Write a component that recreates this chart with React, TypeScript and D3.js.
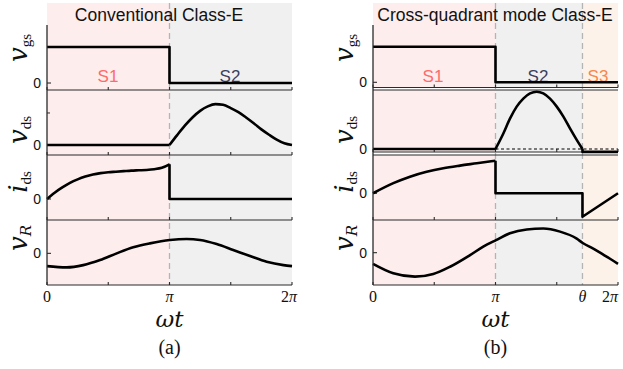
import React from "react";
import * as d3 from "d3";

// ---- data (phase in units of π, values normalised per trace) ----
const THETA = 1.71;

const convVgs: [number, number][] = [[0, 1], [1, 1], [1, 0], [2, 0]];
const convVdsOff: [number, number][] = [[0, 0], [1, 0]];
const convVdsOn: [number, number][] = [
  [1.0, 0], [1.0625, 0.24], [1.125, 0.47], [1.1875, 0.67], [1.25, 0.83], [1.3125, 0.94],
  [1.375, 0.995], [1.4375, 0.98], [1.5, 0.9], [1.5625, 0.8], [1.625, 0.67], [1.6875, 0.53],
  [1.75, 0.38], [1.8125, 0.25], [1.875, 0.13], [1.9375, 0.04], [2.0, 0],
];
const convIdsOn: [number, number][] = [
  [0, 0], [0.0625, 0.18], [0.125, 0.33], [0.1875, 0.46], [0.25, 0.56], [0.3125, 0.64],
  [0.375, 0.7], [0.4375, 0.74], [0.5, 0.765], [0.5625, 0.78], [0.625, 0.795], [0.6875, 0.81],
  [0.75, 0.82], [0.8125, 0.83], [0.875, 0.85], [0.9375, 0.89], [1.0, 0.99],
];
const convIdsOff: [number, number][] = [[1, 0.99], [1, 0], [2, 0]];
const convVr: [number, number][] = [
  [0, -0.91], [0.16, -1.0], [0.296, -0.84], [0.433, -0.48], [0.569, 0], [0.704, 0.43],
  [0.84, 0.71], [1.004, 0.95], [1.14, 1.02], [1.249, 0.95], [1.385, 0.66], [1.52, 0.24],
  [1.657, -0.19], [1.793, -0.6], [1.93, -0.84], [2.0, -0.91],
];

const cqVgs: [number, number][] = [[0, 1], [1, 1], [1, 0], [2, 0]];
const cqVdsOff: [number, number][] = [[0, 0], [1, 0]];
const cqVdsOn: [number, number][] = [
  [1.0, 0], [1.064, 0.27], [1.118, 0.53], [1.173, 0.74], [1.227, 0.88], [1.282, 0.97],
  [1.336, 1.0], [1.39, 0.97], [1.445, 0.88], [1.5, 0.74], [1.553, 0.57], [1.608, 0.36],
  [1.663, 0.16], [THETA, 0],
];
const cqVdsS3: [number, number][] = [[THETA, 0], [THETA, -0.05], [2, -0.05]];
const cqVdsRef: [number, number][] = [[1, 0], [2, 0]];
const cqIdsOn: [number, number][] = [
  [0, 0], [0.166, 0.31], [0.302, 0.51], [0.438, 0.66], [0.574, 0.77], [0.71, 0.85],
  [0.847, 0.92], [1.0, 1.0],
];
const cqIdsOff: [number, number][] = [[1, 1.0], [1, 0], [THETA, 0], [THETA, -0.72], [2, 0]];
const cqVr: [number, number][] = [
  [0, -0.46], [0.166, -0.85], [0.343, -0.99], [0.492, -0.88], [0.629, -0.58], [0.792, -0.1],
  [0.9, 0.25], [1.004, 0.52], [1.118, 0.8], [1.255, 0.96], [1.39, 1.0], [1.527, 0.87],
  [1.663, 0.58], [1.712, 0.4], [1.798, 0.17], [1.88, -0.08], [1.935, -0.25], [2, -0.46],
];

const axisTicks = [0, 0.5, 1, 1.5, 2];
const tickLabelsA = [
  { v: 0, t: "0" }, { v: 1, t: "π" }, { v: 2, t: "2π" },
];
const tickLabelsB = [
  { v: 0, t: "0" }, { v: 1, t: "π" }, { v: THETA, t: "θ" }, { v: 2, t: "2π" },
];

const W = 623;
const H = 369;
const SERIF = "'Liberation Serif', 'Times New Roman', serif";
const SANS = "'Liberation Sans', Arial, sans-serif";
const MATH = "'DejaVu Serif', 'Liberation Serif', serif";

const PINK = "#fdeded";
const GRAY = "#f0f0f0";
const PEACH = "#fdf2ea";

type Row = { top: number; bottom: number; domain: [number, number]; label: string; sub: string; subItalic?: boolean; labelY: number; extraTicks?: number[] };

const rowsA: Row[] = [
  { top: 25, bottom: 90, domain: [-0.194, 1.61], label: "v", sub: "gs", labelY: 48 },
  { top: 90, bottom: 155, domain: [-0.244, 1.34], label: "v", sub: "ds", labelY: 130, extraTicks: [0.78] },
  { top: 155, bottom: 220, domain: [-0.6, 1.257], label: "i", sub: "ds", labelY: 182 },
  { top: 220, bottom: 285, domain: [-2.26, 2.38], label: "v", sub: "R", subItalic: true, labelY: 238 },
];
const rowsB: Row[] = [
  { top: 25, bottom: 87.5, domain: [-0.146, 1.61], label: "v", sub: "gs", labelY: 48 },
  { top: 90, bottom: 152, domain: [-0.052, 1.03], label: "v", sub: "ds", labelY: 130 },
  { top: 155, bottom: 220, domain: [-0.82, 1.175], label: "i", sub: "ds", labelY: 182 },
  { top: 220, bottom: 285, domain: [-1.335, 1.35], label: "v", sub: "R", subItalic: true, labelY: 238 },
];

type Seg = { pts: [number, number][]; smooth: boolean; dashed?: boolean };

function Panel(props: {
  x0: number; x1: number; rows: Row[]; series: Seg[][]; regions: { from: number; to: number; fill: string }[];
  guides: number[]; title: string; titleX: number; stages: { x: number; t: string; c: string }[];
  ticks: { v: number; t: string }[]; caption: string; lastTickX?: number;
}) {
  const x = d3.scaleLinear().domain([0, 2]).range([props.x0, props.x1]);
  const shadeTop = 3;
  const shadeBottom = 285;
  const axisColor = "#2b2b2b";
  return (
    <g>
      {props.regions.map((r, i) => (
        <rect key={i} x={x(r.from)} y={shadeTop} width={x(r.to) - x(r.from)} height={shadeBottom - shadeTop} fill={r.fill} />
      ))}
      {/* white gaps between stacked axes */}
      {props.rows.slice(0, -1).map((r, i) => {
        const next = props.rows[i + 1];
        if (next.top - r.bottom < 0.5) return null;
        return <rect key={"g" + i} x={props.x0} y={r.bottom} width={props.x1 - props.x0 + 1} height={next.top - r.bottom} fill="#fff" />;
      })}
      {props.guides.map((g, i) => (
        <line key={"d" + i} x1={x(g)} x2={x(g)} y1={shadeTop} y2={shadeBottom} stroke="#b4b4b4" strokeWidth={1.3} strokeDasharray="6,4" />
      ))}
      <text x={props.titleX} y={21} textAnchor="middle" fontFamily={SANS} fontSize={17.5} fill="#111">{props.title}</text>
      {props.stages.map((s, i) => (
        <text key={"s" + i} x={s.x} y={82} textAnchor="middle" fontFamily={SANS} fontSize={17} fill={s.c}>{s.t}</text>
      ))}
      {props.rows.map((r, ri) => {
        const y = d3.scaleLinear().domain(r.domain).range([r.bottom, r.top]);
        const line = d3.line<[number, number]>().x(d => x(d[0])).y(d => y(d[1]));
        const smooth = d3.line<[number, number]>().x(d => x(d[0])).y(d => y(d[1])).curve(d3.curveMonotoneX);
        return (
          <g key={ri}>
            {/* bottom axis of this row */}
            <line x1={props.x0} x2={props.x1} y1={r.bottom} y2={r.bottom} stroke={axisColor} strokeWidth={1.2} />
            {ri > 0 && props.rows[ri - 1].bottom !== r.top && (
              <line x1={props.x0} x2={props.x1} y1={r.top} y2={r.top} stroke={axisColor} strokeWidth={1.2} />
            )}
            {axisTicks.map((t, i) => (
              <line key={i} x1={x(t)} x2={x(t)} y1={r.bottom} y2={r.bottom - 3} stroke={axisColor} strokeWidth={1.1} />
            ))}
            {/* zero tick and label */}
            <line x1={props.x0} x2={props.x0 + 4} y1={y(0)} y2={y(0)} stroke={axisColor} strokeWidth={1.1} />
            {(r.extraTicks || []).map((t, i) => (
              <line key={"e" + i} x1={props.x0} x2={props.x0 + 3} y1={y(t)} y2={y(t)} stroke={axisColor} strokeWidth={1} />
            ))}
            <text x={props.x0 - 6} y={y(0)} dy="0.36em" textAnchor="end" fontFamily={SANS} fontSize={14} fill="#111">0</text>
            {/* rotated axis label */}
            <text transform={`translate(${props.x0 - 20},${r.labelY}) rotate(-90)`} textAnchor="middle" fontFamily={MATH} fill="#111">
              <tspan fontStyle="italic" fontSize={26}>{r.label}</tspan>
              <tspan fontSize={15} dy={4} fontStyle={r.subItalic ? "italic" : "normal"} fontFamily={r.subItalic ? MATH : SERIF}>{r.sub}</tspan>
            </text>
            {props.series[ri].map((s, si) => (
              <path key={si} d={(s.smooth ? smooth : line)(s.pts) || ""} fill="none" stroke="#000"
                strokeWidth={s.dashed ? 1.1 : 2.6} strokeDasharray={s.dashed ? "3,2.5" : undefined} strokeLinejoin="round" />
            ))}
          </g>
        );
      })}
      {/* left axis spanning all rows */}
      <line x1={props.x0} x2={props.x0} y1={props.rows[0].top} y2={shadeBottom} stroke={axisColor} strokeWidth={1.3} />
      {props.ticks.map((t, i) => {
        const last = i === props.ticks.length - 1;
        const tx = last && props.lastTickX !== undefined ? props.lastTickX : x(t.v);
        return (
          <text key={"t" + i} x={tx} y={302} textAnchor="middle" fontFamily={SERIF} fontSize={16} fill="#111"
            fontStyle={t.t === "0" ? "normal" : "italic"}>
            {t.t === "2π" ? (<><tspan fontStyle="normal">2</tspan><tspan fontStyle="italic">π</tspan></>) : t.t}
          </text>
        );
      })}
      <text x={x(1)} y={327} textAnchor="middle" fontFamily={MATH} fontStyle="italic" fontSize={23} fill="#111">ωt</text>
      <text x={x(1)} y={354} textAnchor="middle" fontFamily={SERIF} fontSize={20} fill="#111">{props.caption}</text>
    </g>
  );
}

export default function App() {
  return (
    <svg width={W} height={H} viewBox={`0 0 ${W} ${H}`} style={{ display: "block", position: "absolute", left: 0, top: 0, background: "#fff" }}>
      <Panel
        x0={47} x1={292} rows={rowsA}
        series={[
          [{ pts: convVgs, smooth: false }],
          [{ pts: convVdsOff, smooth: false }, { pts: convVdsOn, smooth: true }],
          [{ pts: convIdsOn, smooth: true }, { pts: convIdsOff, smooth: false }],
          [{ pts: convVr, smooth: true }],
        ]}
        regions={[{ from: 0, to: 1, fill: PINK }, { from: 1, to: 2, fill: GRAY }]}
        guides={[1]}
        title="Conventional Class-E" titleX={159}
        stages={[{ x: 108, t: "S1", c: "#ff6b6b" }, { x: 230, t: "S2", c: "#3a3f5c" }]}
        ticks={tickLabelsA} caption="(a)" lastTickX={289}
      />
      <Panel
        x0={373} x1={618} rows={rowsB}
        series={[
          [{ pts: cqVgs, smooth: false }],
          [{ pts: cqVdsRef, smooth: false, dashed: true }, { pts: cqVdsOff, smooth: false }, { pts: cqVdsOn, smooth: true }, { pts: cqVdsS3, smooth: false }],
          [{ pts: cqIdsOn, smooth: true }, { pts: cqIdsOff, smooth: false }],
          [{ pts: cqVr, smooth: true }],
        ]}
        regions={[{ from: 0, to: 1, fill: PINK }, { from: 1, to: THETA, fill: GRAY }, { from: THETA, to: 2, fill: PEACH }]}
        guides={[1, THETA]}
        title="Cross-quadrant mode Class-E" titleX={495}
        stages={[{ x: 433, t: "S1", c: "#ff6b6b" }, { x: 538, t: "S2", c: "#3a3f5c" }, { x: 598, t: "S3", c: "#f5884a" }]}
        ticks={tickLabelsB} caption="(b)" lastTickX={610}
      />
    </svg>
  );
}
